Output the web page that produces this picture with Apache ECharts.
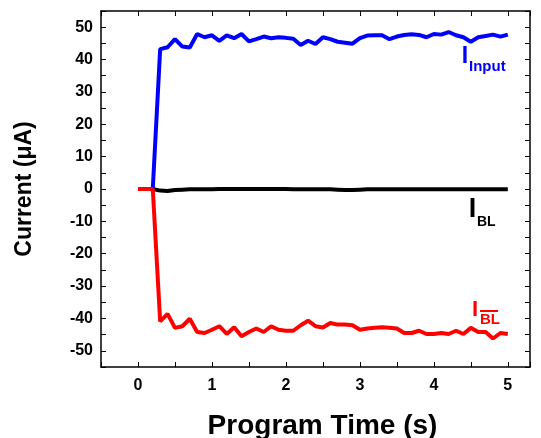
<!DOCTYPE html>
<html lang="en">
<head>
    <meta charset="UTF-8">
    <title>Program Time</title>
    <script src="https://cdn.jsdelivr.net/npm/echarts@6/dist/echarts.min.js"></script>
    <style>
        html, body { margin: 0; padding: 0; background: #fff; }
        .box { width: 541px; height: 438px; }
    </style>
</head>
<body>
    <div class="box"></div>
</body>
<script>
 // time (s), one point every 0.1 s
 let time = [0, 0.1, 0.2, 0.3, 0.4, 0.5, 0.6, 0.7, 0.8, 0.9,
             1.0, 1.1, 1.2, 1.3, 1.4, 1.5, 1.6, 1.7, 1.8, 1.9,
             2.0, 2.1, 2.2, 2.3, 2.4, 2.5, 2.6, 2.7, 2.8, 2.9,
             3.0, 3.1, 3.2, 3.3, 3.4, 3.5, 3.6, 3.7, 3.8, 3.9,
             4.0, 4.1, 4.2, 4.3, 4.4, 4.5, 4.6, 4.7, 4.8, 4.9, 5.0]
 // I_Input (uA)
 let iInput = [0, 0, 0, 43.2, 43.8, 46.3, 44.0, 43.7, 47.9, 46.9,
               47.5, 45.8, 47.5, 46.6, 47.9, 45.6, 46.3, 47.1, 46.6, 46.9,
               46.7, 46.4, 44.5, 45.8, 44.8, 46.9, 46.3, 45.5, 45.2, 44.9,
               46.6, 47.4, 47.5, 47.5, 46.3, 47.1, 47.6, 47.8, 47.6, 46.9,
               47.9, 47.7, 48.5, 47.5, 46.9, 45.5, 46.9, 47.3, 47.7, 47.1, 47.7]
 // I_BL (uA)
 let iBL = [null, null, 0, -0.5, -0.6, -0.3, -0.2, -0.1, -0.1, -0.1,
            -0.1, 0, 0, 0, 0, 0, 0, 0, 0, 0,
            0, -0.1, -0.1, -0.1, -0.1, -0.1, -0.1, -0.2, -0.3, -0.3,
            -0.2, -0.1, -0.1, -0.1, -0.1, -0.1, -0.1, -0.1, -0.1, -0.1,
            -0.1, -0.1, -0.1, -0.1, -0.1, -0.1, -0.1, -0.1, -0.1, -0.1, -0.1]
 // I_BL-bar (uA)
 let iBLbar = [0, 0, 0, -40.9, -38.6, -42.9, -42.4, -40.1, -44.2, -44.5,
               -43.5, -42.4, -44.8, -42.7, -45.5, -44.2, -43.1, -44.2, -42.4, -43.5,
               -43.8, -43.8, -42.1, -40.7, -42.4, -42.8, -41.4, -41.9, -41.9, -42.1,
               -43.5, -43.1, -42.9, -42.7, -42.9, -43.1, -44.5, -44.5, -43.8, -44.8,
               -44.8, -44.5, -44.8, -43.8, -44.8, -42.9, -44.2, -44.2, -46.2, -44.5, -44.8]

 let font = '"Liberation Sans", Arial, sans-serif'
 let pairs = (arr) => time.map((t, i) => [t, arr[i]])

 let Echarts = echarts.init(document.querySelector('.box'))

 let frameX = {
    type: 'value', min: -0.5, max: 5.3, interval: 0.5,
    axisLine: { show: true, onZero: false, lineStyle: { color: '#000', width: 1.5 } },
    axisTick: { show: true, inside: true, length: 5, lineStyle: { color: '#000', width: 1 } },
    splitLine: { show: false }
 }
 let frameY = {
    type: 'value', min: -55, max: 55, interval: 5,
    axisLine: { show: true, onZero: false, lineStyle: { color: '#000', width: 1.5 } },
    axisTick: { show: true, inside: true, length: 5, lineStyle: { color: '#000', width: 1 } },
    splitLine: { show: false }
 }

 let option = {
    animation: false,
    grid: { left: 101, right: 11, top: 11, bottom: 71, outerBoundsMode: 'none', containLabel: false },
    xAxis: [
        Object.assign({}, frameX, {
            position: 'bottom',
            name: 'Program Time (s)',
            nameLocation: 'middle',
            nameGap: 45,
            nameTextStyle: { fontFamily: font, fontSize: 28, fontWeight: 'bold', color: '#000', padding: [0, 0, 0, 14] },
            axisLabel: {
                fontFamily: font, fontSize: 16, fontWeight: 'bold', color: '#000', margin: 11,
                formatter: (v) => Number.isInteger(v) ? String(v) : ''
            }
        }),
        Object.assign({}, frameX, { position: 'top', axisLabel: { show: false } })
    ],
    yAxis: [
        Object.assign({}, frameY, {
            position: 'left',
            name: 'Current (\u03bcA)',
            nameLocation: 'middle',
            nameGap: 65,
            nameTextStyle: { fontFamily: font, fontSize: 23, fontWeight: 'bold', color: '#000' },
            axisLabel: {
                fontFamily: font, fontSize: 16, fontWeight: 'bold', color: '#000', margin: 8,
                formatter: (v) => (v % 10 === 0) ? String(v) : ''
            }
        }),
        Object.assign({}, frameY, { position: 'right', axisLabel: { show: false } })
    ],
    series: [
        { name: 'I_Input', type: 'line', data: pairs(iInput), showSymbol: false,
          lineStyle: { color: '#0000ff', width: 4 }, itemStyle: { color: '#0000ff' } },
        { name: 'I_BL', type: 'line', data: pairs(iBL), showSymbol: false,
          lineStyle: { color: '#000000', width: 4 }, itemStyle: { color: '#000000' } },
        { name: 'I_BLbar', type: 'line', data: pairs(iBLbar), showSymbol: false,
          lineStyle: { color: '#ff0000', width: 4 }, itemStyle: { color: '#ff0000' } }
    ],
    graphic: [
        // I_Input
        { type: 'text', x: 465, y: 57, style: { text: 'I', fill: '#0000ff', font: 'bold 23px ' + font, align: 'center', verticalAlign: 'middle' } },
        { type: 'text', x: 469, y: 67, style: { text: 'Input', fill: '#0000ff', font: 'bold 15px ' + font, align: 'left', verticalAlign: 'middle' } },
        // I_BL
        { type: 'text', x: 472.5, y: 210, style: { text: 'I', fill: '#000', font: 'bold 27px ' + font, align: 'center', verticalAlign: 'middle' } },
        { type: 'text', x: 477, y: 222, style: { text: 'BL', fill: '#000', font: 'bold 14px ' + font, align: 'left', verticalAlign: 'middle' } },
        // I_BL with overline
        { type: 'text', x: 475, y: 310, style: { text: 'I', fill: '#ff0000', font: 'bold 22px ' + font, align: 'center', verticalAlign: 'middle' } },
        { type: 'text', x: 480, y: 319.5, style: { text: 'BL', fill: '#ff0000', font: 'bold 15px ' + font, align: 'left', verticalAlign: 'middle' } },
        { type: 'line', shape: { x1: 480, y1: 311, x2: 498, y2: 311 }, style: { stroke: '#ff0000', lineWidth: 2 } }
    ]
 }
 Echarts.setOption(option)
</script>
</html>
